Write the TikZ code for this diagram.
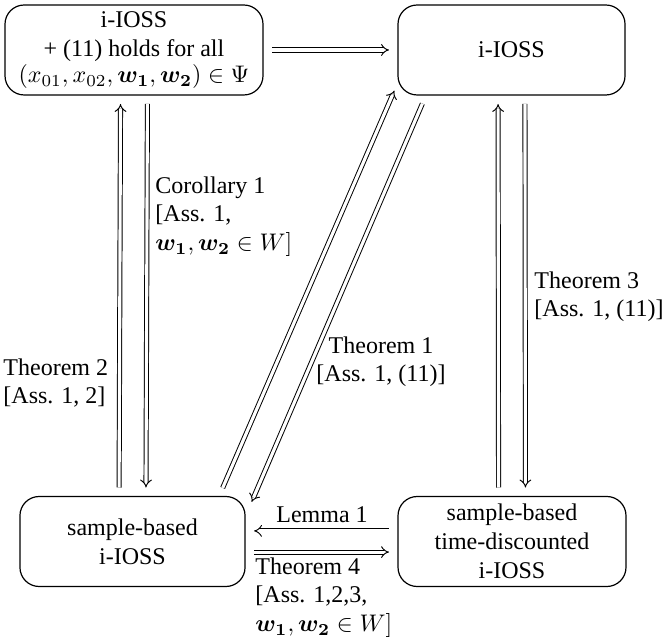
\documentclass[tikz,border=0pt]{standalone}
\usepackage{amsmath,amssymb,bm}
\usepackage{fontspec}
\setmainfont{Liberation Serif}
\usetikzlibrary{arrows.meta,calc}
\begin{document}
\begin{tikzpicture}[x=0.41667pt,y=-0.41667pt,
  box/.style={draw, rounded corners=8pt, align=center, inner sep=1pt, minimum height=37.5pt, line width=0.5pt},
  dbl/.style={double, double distance=1.3pt, line width=0.4pt, -{Implies}, shorten <=3.5pt, shorten >=3.5pt},
  dbln/.style={double, double distance=1.3pt, line width=0.4pt, -{Implies}},
  lbl/.style={align=left, inner sep=0pt}]
\useasboundingbox (0,0) rectangle (665,642);
\node[box, minimum width=107.5pt] (tl) at (134,50) {i-IOSS\\+ (11) holds for all\\[-1pt]$(x_{01},x_{02},\bm{w_1},\bm{w_2})\in\Psi$};
\node[box, minimum width=94.6pt] (tr) at (511.5,50) {i-IOSS};
\node[box, minimum width=93.8pt] (bl) at (132.5,541.5) {sample-based\\i-IOSS};
\node[box, minimum width=95pt] (br) at (512,541.5) {sample-based\\time-discounted\\i-IOSS};
% top horizontal
\draw[dbl] (tl) -- (tr);
% left verticals
\draw[dbl] ([xshift=-5.6pt]bl.north) -- ([xshift=-5.6pt]tl.south);
\draw[dbl] ([xshift=5.6pt]tl.south) -- ([xshift=5.6pt]bl.north);
% right verticals
\draw[dbl] ([xshift=-5.6pt]br.north) -- ([xshift=-5.6pt]tr.south);
\draw[dbl] ([xshift=5.6pt]tr.south) -- ([xshift=5.6pt]br.north);
% bottom horizontals
\draw[dbl] ([yshift=4.4pt]br.west) -- ([yshift=4.4pt]bl.east);
\draw[dbl] ([yshift=-4.4pt]bl.east) -- ([yshift=-4.4pt]br.west);
% diagonals
\coordinate (d1s) at ($(bl.north east)+(-23,-8)$);
\coordinate (d1e) at ($(tr.south west)+(-3,-5)$);
\coordinate (d2s) at ($(tr.south west)+(25,8)$);
\coordinate (d2e) at ($(bl.north east)+(6,6)$);
\draw[dbln] (d1s) -- (d1e);
\draw[dbln] (d2s) -- (d2e);
% labels
\node[lbl, anchor=north west] (lc1) at (155,176) {Corollary 1\\{}[Ass. 1,\\$\bm{w_1},\bm{w_2}\in W]$};
\node[lbl, anchor=north west] (lt2) at (3,358) {Theorem 2\\{}[Ass. 1, 2]};
\node[align=center, inner sep=0pt, anchor=north] (lt1) at (381,336) {Theorem 1\\{}[Ass. 1, (11)]};
\node[lbl, anchor=north west] (lt3) at (534,271) {Theorem 3\\{}[Ass. 1, (11)]};
\node[inner sep=0pt] (ll1) at (322,515) {Lemma 1};
\node[lbl, anchor=north west] (lt4) at (255,557) {Theorem 4\\{}[Ass. 1,2,3,\\$\bm{w_1},\bm{w_2}\in W]$};
\end{tikzpicture}
\end{document}
